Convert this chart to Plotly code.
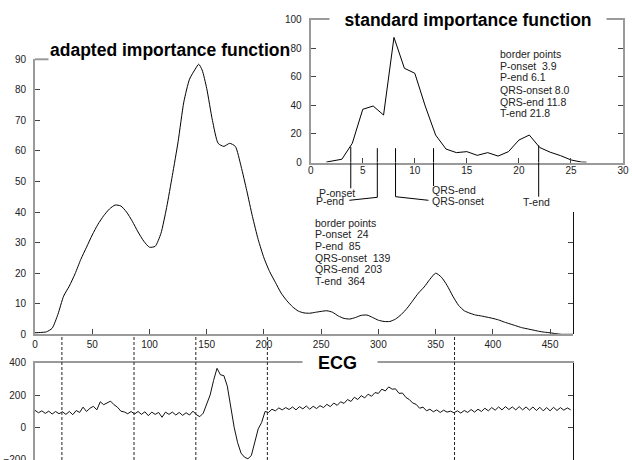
import plotly.graph_objects as go

W, H = 632, 460

# ---------------- data ----------------
adapted_x = [0, 5, 10, 15, 20, 25, 30, 35, 40, 45,
             50, 55, 60, 65, 70, 75, 80, 85, 90, 95,
             100, 105, 110, 115, 120, 125, 130, 135, 140,
             143, 146,
             150, 155, 160, 165, 170, 175, 180, 185, 190, 195,
             200, 205, 210, 215, 220, 225, 230, 235, 240, 245,
             250, 255, 260, 265, 270, 275, 280, 285, 290, 295,
             300, 305, 310, 315, 320, 325, 330, 335, 340, 345,
             350, 355, 360, 365, 370, 375, 380, 385, 390, 395,
             400, 405, 410, 415, 420, 425, 430, 435, 440, 445,
             450, 455, 460, 465, 470]
adapted_y = [0.5, 0.6, 0.8, 2.0, 6.5, 12.5, 15.8, 19.8, 24.5, 28.5,
             32.5, 36, 38.8, 41, 42.3, 42, 40, 37, 33.5, 30.5,
             28.5, 28.8, 33, 41.5, 52, 63, 76, 83.5, 86.8,
             88.4, 86.5,
             80.5, 70, 62.5, 61.5, 62.5, 61.5, 55, 47, 38.5, 31,
             25, 20.5, 17, 13.5, 11, 9, 7.6, 7, 6.9, 7.2,
             7.5, 7.7, 7.2, 6, 5.2, 5, 5.5, 6.2, 6.3, 5.5,
             4.6, 4.2, 4.2, 5, 6.5, 8.5, 11, 13.5, 15.5, 18,
             20, 18.7, 16, 12.5, 9.5, 7.7, 6.9, 6.3, 6, 5.6,
             5.2, 4.7, 4, 3.4, 2.8, 2.2, 1.8, 1.4, 1, 0.7,
             0.5, 0.2, 0, 0, 0]

std_x = [1.5, 2, 3, 4, 5, 6, 7, 8, 9, 10, 11, 12, 13, 14, 15, 16, 17,
         18, 19, 20, 21, 22, 23, 24, 25, 26, 26.5]
std_y = [0.3, 0.8, 2.3, 13.5, 37.2, 39.5, 33.2, 87.5, 65.9, 62.4, 39.5,
         19.2, 9.4, 6.9, 7.6, 5.0, 6.9, 4.5, 7.6, 15.7, 19.2, 10.5, 7.2,
         4.8, 1.8, 0.3, 0.2]

ecg_x = list(range(0, 469, 3))
ecg_y = [105, 90, 102, 86, 100, 82, 98, 84, 96, 80,
         98, 78, 104, 92, 125, 98, 118, 130, 108, 158,
         140, 150, 162, 140, 125, 100, 95, 84, 98, 82,
         98, 80, 96, 72, 94, 80, 92, 62, 94, 80,
         94, 76, 92, 74, 90, 76, 100, 78, 66, 88,
         138, 200, 290, 365, 325, 320, 255, 130, 0, -95,
         -160, -185, -195, -175, -90, -10, 30, 98, 92, 112,
         102, 120, 108, 122, 110, 126, 108, 128, 114, 132,
         112, 130, 116, 134, 122, 142, 128, 150, 136, 158,
         148, 172, 160, 186, 172, 196, 182, 205, 192, 215,
         210, 236, 225, 250, 236, 238, 210, 212, 185, 172,
         150, 142, 118, 125, 102, 112, 96, 108, 92, 106,
         94, 100, 90, 102, 88, 104, 92, 110, 94, 112,
         98, 118, 102, 122, 106, 126, 108, 128, 110, 126,
         108, 128, 108, 126, 106, 126, 104, 124, 102, 122,
         102, 124, 104, 122, 106, 120, 108]

border_names = ["P-onset", "P-end", "QRS-onset", "QRS-end", "T-end"]
border_main = ["24", "85", "139", "203", "364"]
border_std = ["3.9", "6.1", "8.0", "11.8", "21.8"]
ecg_marker_x = [23.5, 86.5, 140.5, 203, 366.5]      # dashed lines (as drawn)
std_marker_x = [3.85, 6.4, 8.15, 11.8, 21.9]         # callout lines (as drawn)
std_marker_top = [11, 10, 10, 10, 12]

main_xticks = [0, 50, 100, 150, 200, 250, 300, 350, 400, 450]
main_yticks = [0, 10, 20, 30, 40, 50, 60, 70, 80, 90]
std_xticks = [0, 5, 10, 15, 20, 25, 30]
std_yticks = [0, 20, 40, 60, 80, 100]
ecg_yticks = [-200, 0, 200, 400]

# ---------------- layout helpers ----------------
def X(px):
    return px / W

def Y(py):
    return 1 - py / H

FONT = "Liberation Sans, Arial, sans-serif"
AXC = "#9a9a9a"
TICKC = "#444444"
TXT = "#222222"
tickfont = dict(family=FONT, size=10, color=TXT)

main_xdom = [X(35), X(573)]
main_ydom = [Y(334.3), Y(59.3)]
std_xdom = [X(310.7), X(623)]
std_ydom = [Y(162.5), Y(19.5)]
ecg_ydom = [0, Y(362.7)]
ecg_range = [-202.5, 400]

fig = go.Figure()
fig.add_trace(go.Scatter(x=adapted_x, y=adapted_y, mode="lines",
                         line=dict(color="black", width=1, shape="spline", smoothing=0.6),
                         xaxis="x", yaxis="y", hoverinfo="skip"))
fig.add_trace(go.Scatter(x=std_x, y=std_y, mode="lines",
                         line=dict(color="black", width=1),
                         xaxis="x2", yaxis="y2", hoverinfo="skip"))
fig.add_trace(go.Scatter(x=ecg_x, y=ecg_y, mode="lines",
                         line=dict(color="#111111", width=1),
                         xaxis="x3", yaxis="y3", hoverinfo="skip"))
fig.add_trace(go.Scatter(x=[None], y=[None], xaxis="x", yaxis="y4", hoverinfo="skip"))
fig.add_trace(go.Scatter(x=[None], y=[None], xaxis="x3", yaxis="y5", hoverinfo="skip"))

common = dict(showgrid=False, zeroline=False, ticks="inside", ticklen=5,
              tickcolor=TICKC, tickwidth=1, tickfont=tickfont,
              showline=True, linecolor=AXC, linewidth=2, ticklabeloverflow="allow")

fig.update_layout(
    width=W, height=H, margin=dict(l=0, r=0, t=0, b=0, autoexpand=False), autosize=False,
    paper_bgcolor="white", plot_bgcolor="rgba(0,0,0,0)", showlegend=False,
    xaxis=dict(domain=main_xdom, range=[0, 470], anchor="y",
               tickvals=main_xticks, ticklabelstandoff=0, **common),
    yaxis=dict(domain=main_ydom, range=[0, 90], anchor="x",
               tickvals=main_yticks, ticklabelstandoff=5, **common),
    yaxis4=dict(domain=[main_ydom[0], Y(212.1)], range=[0, 40], anchor="x",
                side="right", showgrid=False, zeroline=False, showline=True,
                linecolor="#111111", linewidth=1, ticks="inside", ticklen=5,
                tickcolor=TICKC, tickvals=[0, 10, 20, 30, 40], showticklabels=False),
    xaxis2=dict(domain=std_xdom, range=[0, 30], anchor="y2", mirror="ticks",
                tickvals=std_xticks, ticklabelstandoff=-3, **common),
    yaxis2=dict(domain=std_ydom, range=[0, 100], anchor="x2", mirror="ticks",
                tickvals=std_yticks, ticklabelstandoff=5, **common),
    xaxis3=dict(domain=main_xdom, range=[0, 470], anchor="y3", side="top",
                showgrid=False, zeroline=False, showline=True, linecolor=AXC,
                linewidth=2, ticks="", showticklabels=False),
    yaxis3=dict(domain=ecg_ydom, range=ecg_range, anchor="x3",
                tickvals=ecg_yticks, ticklabelstandoff=5, **common),
    yaxis5=dict(overlaying="y3", range=ecg_range, anchor="x3", side="right",
                showgrid=False, zeroline=False, showline=True, linecolor="#111111",
                linewidth=1, ticks="inside", ticklen=5, tickcolor=TICKC,
                tickvals=ecg_yticks, showticklabels=False),
)

shapes = []
annotations = []

# stub of the main top border
shapes.append(dict(type="line", xref="paper", yref="paper",
                   x0=main_xdom[0], x1=X(48.5), y0=main_ydom[1], y1=main_ydom[1],
                   line=dict(color=AXC, width=2)))

# dashed border-point lines through the ECG
for mx in ecg_marker_x:
    shapes.append(dict(type="line", xref="x3", yref="paper", x0=mx, x1=mx,
                       y0=0, y1=Y(335.5), layer="above",
                       line=dict(color="#222222", width=1, dash="3px,2px")))

# callouts of the standard importance function
bend_x = [None, 3.71, 11.31, None, None]
bottom_py = [188.3, 197.3, 196.7, 186.0, 196.7]
bend_py = [None, 200.3, 200.3, None, None]
for i, mx in enumerate(std_marker_x):
    shapes.append(dict(type="line", xref="x2", yref="y2", x0=mx, x1=mx,
                       y0=std_marker_top[i], y1=0,
                       line=dict(color="black", width=1)))
    path = f"M {mx},{std_ydom[0]} L {mx},{Y(bottom_py[i])}"
    if bend_x[i] is not None:
        path += f" L {bend_x[i]},{Y(bend_py[i])}"
    shapes.append(dict(type="path", xref="x2", yref="paper", path=path,
                       line=dict(color="black", width=1)))

label_font = dict(family=FONT, size=10.5, color=TXT)
callout_text = [
    dict(x=4.45, y=193.0, xanchor="right"),
    dict(x=3.35, y=201.0, xanchor="right"),
    dict(x=11.47, y=201.0, xanchor="left"),
    dict(x=11.47, y=190.0, xanchor="left"),
    dict(x=21.66, y=201.7, xanchor="center"),
]
for name, ct in zip(border_names, callout_text):
    annotations.append(dict(text=name, xref="x2", yref="paper", x=ct["x"], y=Y(ct["y"]),
                            xanchor=ct["xanchor"], yanchor="middle", showarrow=False,
                            font=label_font))

# border point lists
seps_std = ["\u00a0 ", " ", " ", " ", " "]
lines_std = ["border points"] + [n + s + v for n, s, v in zip(border_names, seps_std, border_std)]
for i, t in enumerate(lines_std):
    annotations.append(dict(text=t, xref="paper", yref="paper", x=X(498.0), y=Y(53.5 + 12.0 * i),
                            xanchor="left", yanchor="middle", showarrow=False, font=label_font))
lines_main = ["border points"] + [n + "\u00a0 " + v for n, v in zip(border_names, border_main)]
for i, t in enumerate(lines_main):
    annotations.append(dict(text=t, xref="paper", yref="paper", x=X(313.0), y=Y(222.7 + 11.6 * i),
                            xanchor="left", yanchor="middle", showarrow=False, font=label_font))

# titles
NB = "\u00a0"
annotations.append(dict(text="<b>adapted importance function</b>", xref="paper", yref="paper",
                        x=X(169.5), y=Y(50.5), xanchor="center", yanchor="middle",
                        showarrow=False, font=dict(family=FONT, size=17.5, color="black")))
annotations.append(dict(text="<b>" + NB * 3 + "standard importance function" + NB * 3 + "</b>",
                        xref="paper", yref="paper", x=X(468.3), y=Y(20.0),
                        xanchor="center", yanchor="middle", showarrow=False,
                        bgcolor="white", borderpad=0,
                        font=dict(family=FONT, size=17.5, color="black")))
annotations.append(dict(text="<b>" + NB * 3 + "ECG" + NB * 4 + "</b>",
                        xref="paper", yref="paper", x=X(301.5), y=Y(362.5),
                        xanchor="left", yanchor="middle", showarrow=False,
                        bgcolor="white", borderpad=0,
                        font=dict(family=FONT, size=18, color="black")))

fig.update_layout(shapes=shapes, annotations=annotations)
fig.write_html("out.html",
               config={"displayModeBar": False, "staticPlot": True},
               post_script="document.body.style.margin='0px';"
                           "document.documentElement.style.margin='0px';"
                           "document.body.style.overflow='hidden';")
